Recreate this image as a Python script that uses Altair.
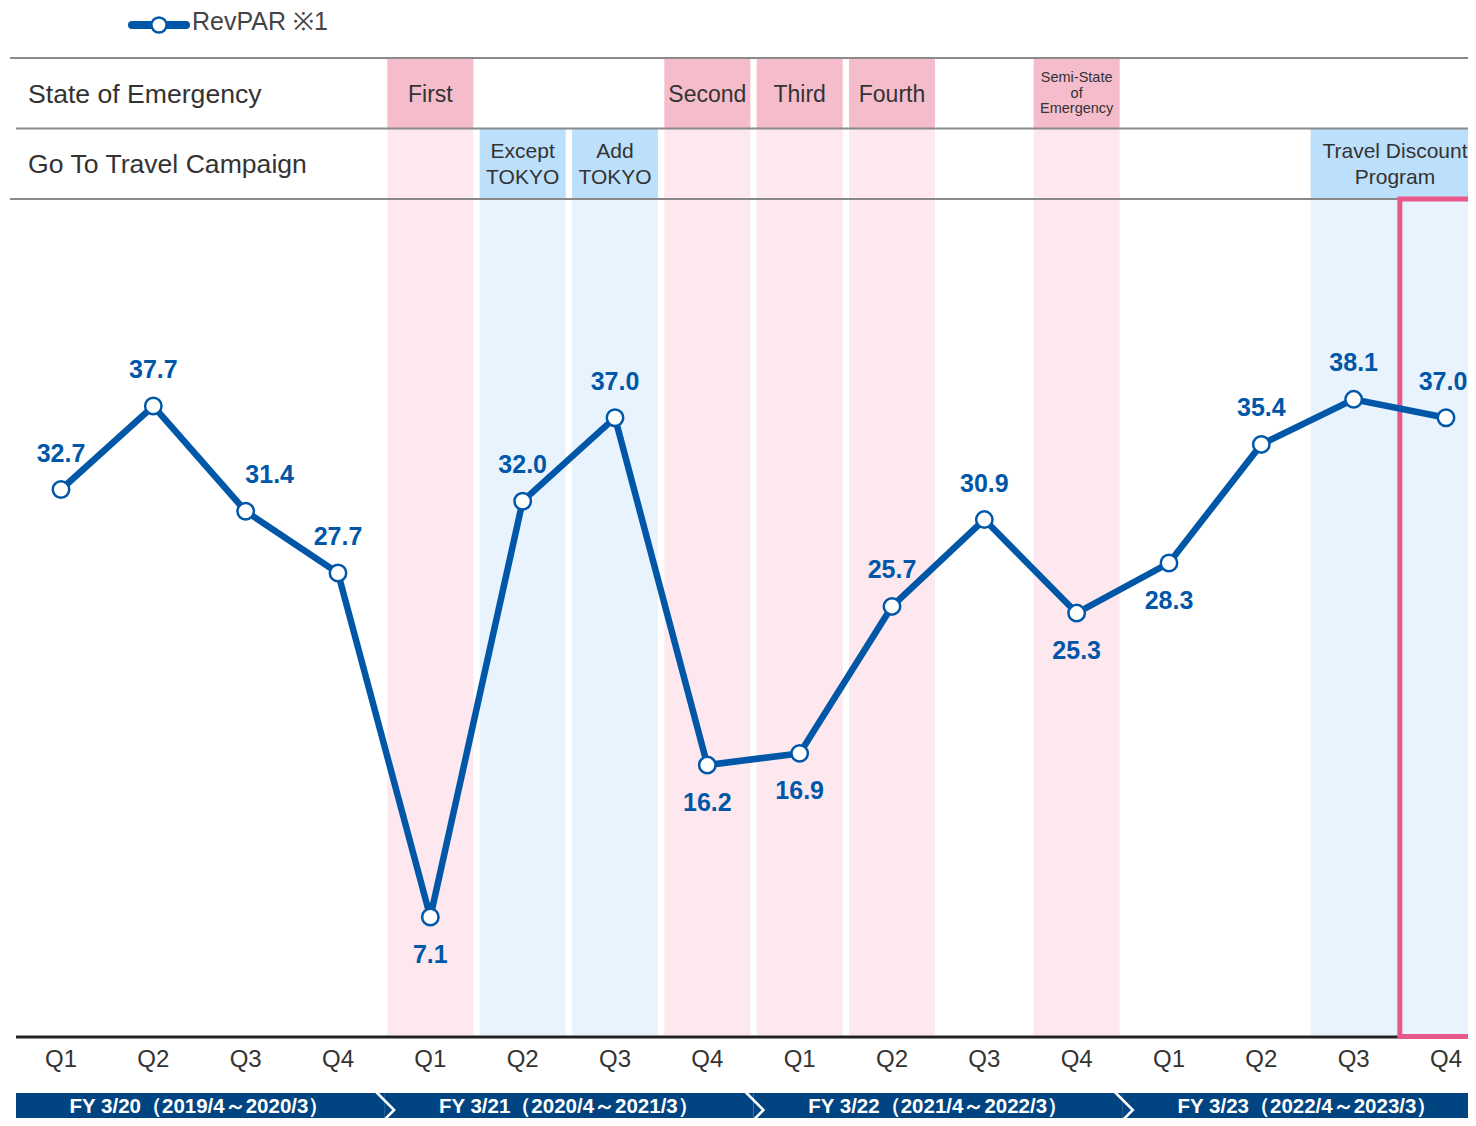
import altair as alt
import pandas as pd

# ---------------- data ----------------
quarters = ["Q1", "Q2", "Q3", "Q4"] * 4
revpar = [32.7, 37.7, 31.4, 27.7, 7.1, 32.0, 37.0, 16.2,
          16.9, 25.7, 30.9, 25.3, 28.3, 35.4, 38.1, 37.0]
label_side = ["above", "above", "right", "above", "below", "above", "above", "below",
              "below", "above", "above", "below", "below", "above", "above", "edge"]
fiscal_years = ["FY 3/20（2019/4～2020/3）", "FY 3/21（2020/4～2021/3）",
                "FY 3/22（2021/4～2022/3）", "FY 3/23（2022/4～2023/3）"]
emergency_q = [4, 7, 8, 9, 11]
emergency_labels = ["First", "Second", "Third", "Fourth", "Semi-State\nof\nEmergency"]
goto_q_start = [5, 6, 14]
goto_q_end = [5, 6, 15]
goto_labels = ["Except\nTOKYO", "Add\nTOKYO", "Travel Discount\nProgram"]
row_titles = ["State of Emergency", "Go To Travel Campaign"]
legend_label = "RevPAR ※1"

# ---------------- geometry helpers ----------------
STEP = 92.333
XMIN = (8 - 61) / STEP
XMAX = (1468 - 61) / STEP
PX_PER = 16.70
YMAX = (1035.6 - 8) / PX_PER
YMIN = (1035.6 - 1118) / PX_PER


def vy(py):
    return (1035.6 - py) / PX_PER


def vx(px):
    return (px - 61) / STEP


HW = 0.466
ROW1_TOP, ROW_MID, ROW2_BOT = vy(58), vy(128.5), vy(199)

xs = alt.Scale(domain=[XMIN, XMAX], nice=False, zero=False)
ys = alt.Scale(domain=[YMIN, YMAX], nice=False, zero=False)


def X(f):
    return alt.X(f, type="quantitative", scale=xs, axis=None)


def Y(f):
    return alt.Y(f, type="quantitative", scale=ys, axis=None)


FONT = "Liberation Sans"
BLUE = "#0057A8"
TXT = "#333333"

# ---------------- tables ----------------
n = len(revpar)
main = pd.DataFrame({"i": list(range(n)), "v": revpar, "q": quarters,
                     "lab": [f"{v:.1f}" for v in revpar], "side": label_side,
                     "qy": [vy(1060)] * n})

emer = pd.DataFrame({"x": [q - HW for q in emergency_q], "x2": [q + HW for q in emergency_q],
                     "xc": emergency_q, "lab": emergency_labels,
                     "y0": [0.0] * len(emergency_q), "ym": [ROW_MID] * len(emergency_q),
                     "yt": [ROW1_TOP] * len(emergency_q)})
emer["ty"] = [vy(78) if "\n" in s else vy(95) for s in emergency_labels]
goto = pd.DataFrame({"x": [q - HW for q in goto_q_start],
                     "x2": [q + HW if q < n - 1 else XMAX + 1 for q in goto_q_end],
                     "xc": [(a + b) / 2 for a, b in zip(goto_q_start, goto_q_end)],
                     "lab": goto_labels,
                     "y0": [0.0] * 3, "yb": [ROW2_BOT] * 3, "ym": [ROW_MID] * 3,
                     "ty": [vy(152)] * 3})
goto.loc[goto.index[-1], "xc"] = vx(1395)

fy = pd.DataFrame({"lab": fiscal_years,
                   "x": [vx(16)] + [4 * k - 0.5 for k in range(1, 4)],
                   "x2": [4 * k - 0.5 for k in range(1, 4)] + [XMAX + 1],
                   "xc": [4 * k + 1.5 for k in range(4)],
                   "yt": [vy(1093)] * 4, "yb": [YMIN - 1] * 4, "ty": [vy(1107)] * 4})

# ---------------- layers ----------------
layers = []

# light bands
layers.append(alt.Chart(emer).mark_rect(color="#FCE8EE").encode(
    x=X("x"), x2="x2", y=Y("y0"), y2="ym"))
layers.append(alt.Chart(goto).mark_rect(color="#E8F3FE").encode(
    x=X("x"), x2="x2", y=Y("y0"), y2="yb"))
# header cells
layers.append(alt.Chart(emer).mark_rect(color="#F5BDCC").encode(
    x=X("x"), x2="x2", y=Y("ym"), y2="yt"))
layers.append(alt.Chart(goto).mark_rect(color="#BCDFFB").encode(
    x=X("x"), x2="x2", y=Y("yb"), y2="ym"))

# header rules
rules = pd.DataFrame({"x": [vx(10), vx(16), vx(10)], "x2": [XMAX + 1] * 3,
                      "y": [ROW1_TOP, ROW_MID, ROW2_BOT]})
layers.append(alt.Chart(rules).mark_rule(color="#8a8a8a", strokeWidth=2).encode(
    x=X("x"), x2="x2", y=Y("y")))
# x axis baseline
base = pd.DataFrame({"x": [vx(16)], "x2": [XMAX + 1], "y": [vy(1037)]})
layers.append(alt.Chart(base).mark_rule(color="#222222", strokeWidth=3).encode(
    x=X("x"), x2="x2", y=Y("y")))

# highlight box (latest quarter)
box = pd.DataFrame({"x": [n - 1.5], "x2": [XMAX + 0.3], "y": [vy(1036.5)], "y2": [ROW2_BOT]})
layers.append(alt.Chart(box).mark_rect(fillOpacity=0, stroke="#E8588A", strokeWidth=5).encode(
    x=X("x"), x2="x2", y=Y("y"), y2="y2"))

# row titles
rt = pd.DataFrame({"x": [vx(28)] * 2, "y": [vy(95), vy(165)], "lab": row_titles})
layers.append(alt.Chart(rt).mark_text(align="left", baseline="middle", font=FONT,
                                      fontSize=26.6, color=TXT).encode(
    x=X("x"), y=Y("y"), text="lab"))

# header cell labels
emer_main = emer[~emer["lab"].str.contains("\n")]
emer_small = emer[emer["lab"].str.contains("\n")]
layers.append(alt.Chart(emer_main).mark_text(baseline="middle", font=FONT, fontSize=23,
                                             color=TXT).encode(
    x=X("xc"), y=Y("ty"), text="lab"))
layers.append(alt.Chart(emer_small).mark_text(baseline="middle", font=FONT, fontSize=14.5,
                                              lineHeight=15.5, lineBreak="\n", color=TXT).encode(
    x=X("xc"), y=Y("ty"), text="lab"))
layers.append(alt.Chart(goto).mark_text(baseline="middle", font=FONT, fontSize=21,
                                        lineHeight=25.5, lineBreak="\n", color=TXT).encode(
    x=X("xc"), y=Y("ty"), text="lab"))

# data line + points
layers.append(alt.Chart(main).mark_line(color=BLUE, strokeWidth=6.5).encode(
    x=X("i"), y=Y("v")))
layers.append(alt.Chart(main).mark_point(shape="circle", filled=True, fill="white",
                                         stroke=BLUE, strokeWidth=2.5, size=270,
                                         opacity=1).encode(x=X("i"), y=Y("v")))

# data labels
lab_style = dict(font=FONT, fontSize=25, fontWeight="bold", color=BLUE, baseline="middle")
layers.append(alt.Chart(main).transform_filter(alt.datum.side == "above").mark_text(
    dy=-36, **lab_style).encode(x=X("i"), y=Y("v"), text="lab"))
layers.append(alt.Chart(main).transform_filter(alt.datum.side == "edge").mark_text(
    dy=-36, dx=-3, **lab_style).encode(x=X("i"), y=Y("v"), text="lab"))
layers.append(alt.Chart(main).transform_filter(alt.datum.side == "below").mark_text(
    dy=38, **lab_style).encode(x=X("i"), y=Y("v"), text="lab"))
layers.append(alt.Chart(main).transform_filter(alt.datum.side == "right").mark_text(
    dy=-36, dx=24, **lab_style).encode(x=X("i"), y=Y("v"), text="lab"))

# quarter labels
layers.append(alt.Chart(main).mark_text(baseline="middle", font=FONT, fontSize=24,
                                        color=TXT).encode(
    x=X("i"), y=Y("qy"), text="q"))

# fiscal-year banners
layers.append(alt.Chart(fy).mark_rect(color="#004481").encode(
    x=X("x"), x2="x2", y=Y("yt"), y2="yb"))
chev_rows = []
for k in range(1, 4):
    b = 4 * k - 0.5
    for j, (dxp, py) in enumerate([(-8, 1092), (10, 1110), (-8, 1128)]):
        chev_rows.append({"g": k, "o": j, "x": b + dxp / STEP, "y": vy(py)})
chev = pd.DataFrame(chev_rows)
layers.append(alt.Chart(chev).mark_line(color="white", strokeWidth=2.5).encode(
    x=X("x"), y=Y("y"), detail="g:N", order="o:Q"))
layers.append(alt.Chart(fy).mark_text(baseline="middle", font=FONT,
                                      fontSize=20.5, fontWeight="bold", color="white").encode(
    x=X("xc"), y=Y("ty"), text="lab"))

# legend
leg_line = pd.DataFrame({"x": [vx(132), vx(186)], "y": [vy(25)] * 2})
layers.append(alt.Chart(leg_line).mark_line(color=BLUE, strokeWidth=8, strokeCap="round").encode(
    x=X("x"), y=Y("y")))
leg_pt = pd.DataFrame({"x": [vx(159)], "y": [vy(25)]})
layers.append(alt.Chart(leg_pt).mark_point(shape="circle", filled=True, fill="white",
                                           stroke=BLUE, strokeWidth=2.5, size=230,
                                           opacity=1).encode(x=X("x"), y=Y("y")))
leg_txt = pd.DataFrame({"x": [vx(192)], "y": [vy(22)], "lab": [legend_label]})
layers.append(alt.Chart(leg_txt).mark_text(align="left", baseline="middle", font=FONT,
                                           fontSize=25, color="#444444").encode(
    x=X("x"), y=Y("y"), text="lab"))

chart = alt.layer(*layers).properties(
    width=1460, height=1110,
    autosize=alt.AutoSizeParams(type="none"),
    padding=0,
).configure_view(stroke=None)

chart.save("out.html", embed_options={"renderer": "svg", "actions": False})
